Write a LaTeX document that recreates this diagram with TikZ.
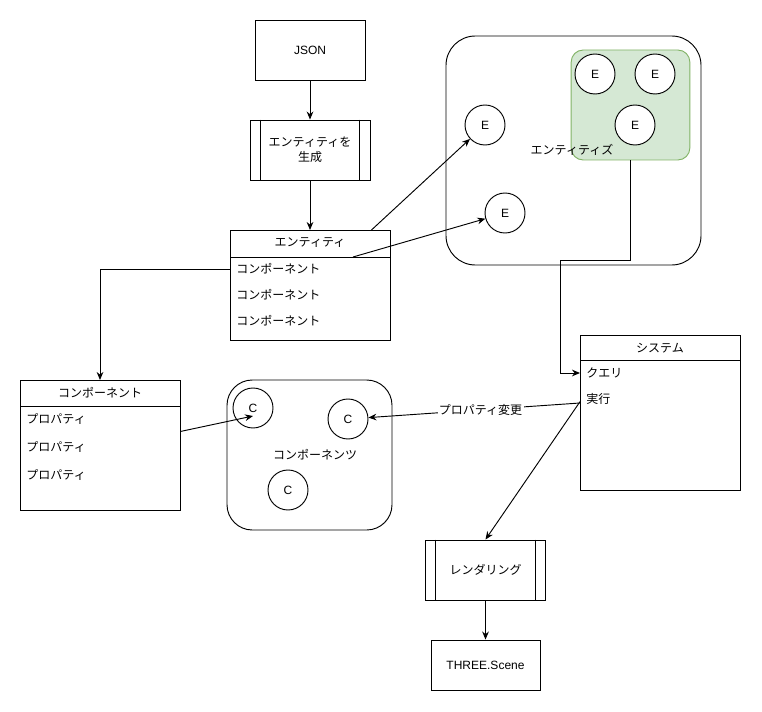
\documentclass[tikz,border=0pt]{standalone}
\usepackage{fontspec}
\setmainfont{Liberation Sans}
\newfontfamily\jpfont{Noto Sans CJK JP}
\usetikzlibrary{arrows.meta}
\definecolor{grpfill}{HTML}{D5E8D4}
\definecolor{grpline}{HTML}{82B366}
\begin{document}
\begin{tikzpicture}[x=0.75pt,y=-0.75pt,line width=0.7pt,
    font=\fontsize{9}{11}\selectfont,
    >={Stealth[length=6pt,width=5pt]},
    jp/.style={font=\jpfont\fontsize{9}{11}\selectfont},
    proc/.style={draw,minimum width=90pt,minimum height=45pt,align=center},
    tbl/.style={draw,minimum width=120pt,anchor=north},
    row/.style={jp,anchor=west,inner xsep=4.5pt,inner ysep=1pt},
    dot/.style={circle,draw,fill=white,minimum size=30pt,inner sep=0pt}]
  \useasboundingbox (0,0) rectangle (762,712);

  % containers
  \draw[rounded corners=22pt] (446,36) rectangle (701,265);
  \node[draw=grpline,fill=grpfill,rounded corners=9pt,minimum width=89pt,
        minimum height=82.5pt] (grp) at (630.5,105) {};
  \draw[rounded corners=19pt] (227,380) rectangle (392,530);
  \foreach \n/\x/\y in {e1/595/74,e2/655/74,e3/635/125,ea/485/125,eb/505/213}
    \node[dot] (\n) at (\x,\y) {E};
  \node[jp] (entsl) at (572,150) {エンティティズ};
  \foreach \n/\x/\y in {c1/253/408,c2/348/419,c3/288/490}
    \node[dot] (\n) at (\x,\y) {C};
  \node[jp] (compsl) at (315,455) {コンポーネンツ};

  % flow
  \node[draw,minimum width=82.5pt,minimum height=45pt] (json) at (310,50) {JSON};
  \node[proc,jp] (gen) at (310,150) {エンティティを\\生成};
  \draw ([xshift=8pt]gen.north west) -- ([xshift=8pt]gen.south west);
  \draw ([xshift=-8pt]gen.north east) -- ([xshift=-8pt]gen.south east);

  \node[tbl,minimum height=82.5pt] (ent) at (310,230) {};
  \node[jp] (enth) at (310,243) {エンティティ};
  \draw (230,257) -- (390,257);
  \foreach \i/\y in {1/269,2/295,3/321}
    \node[row] (erow\i) at (230,\y) {コンポーネント};

  \node[tbl,minimum height=97.5pt] (comp) at (100,380) {};
  \node[jp] (comph) at (100,393) {コンポーネント};
  \draw (20,406) -- (180,406);
  \foreach \i/\y in {1/419,2/447,3/475}
    \node[row] (prop\i) at (20,\y) {プロパティ};

  \node[tbl,minimum height=116.25pt] (sys) at (660,335) {};
  \node[jp] (sysh) at (660,348) {システム};
  \draw (580,360) -- (740,360);
  \node[row] (query) at (580,373) {クエリ};
  \node[row] (run) at (580,399) {実行};

  \node[proc,jp] (rend) at (485.5,570) {レンダリング};
  \draw ([xshift=8pt]rend.north west) -- ([xshift=8pt]rend.south west);
  \draw ([xshift=-8pt]rend.north east) -- ([xshift=-8pt]rend.south east);
  \node[draw,minimum width=81.75pt,minimum height=37.5pt] (three) at (485.5,665) {THREE.Scene};

  % connectors
  \coordinate (entcut) at (353,257);
  \coordinate (bend) at (560,260);
  \draw[->] (json) -- (gen);
  \draw[->] (gen) -- (ent);
  \draw[->] ([xshift=-14.25pt]ent.north east) -- (ea);
  \draw[->] (entcut) -- (eb);
  \draw[->] (erow1.west) -| (comp.north);
  \draw[->] ([yshift=10.5pt]comp.east) -- ([yshift=-6pt]c1.center);
  \draw[->] (grp.south) |- (bend) |- (query.west);
  \draw[->] ([yshift=-3pt]run.west) -- node[jp,pos=0.47,fill=white,inner sep=1pt] (chg) {プロパティ変更} (c2);
  \draw[->] ([yshift=-2pt]run.west) -- (rend.north);
  \draw[->] (rend) -- (three);
\end{tikzpicture}
\end{document}
